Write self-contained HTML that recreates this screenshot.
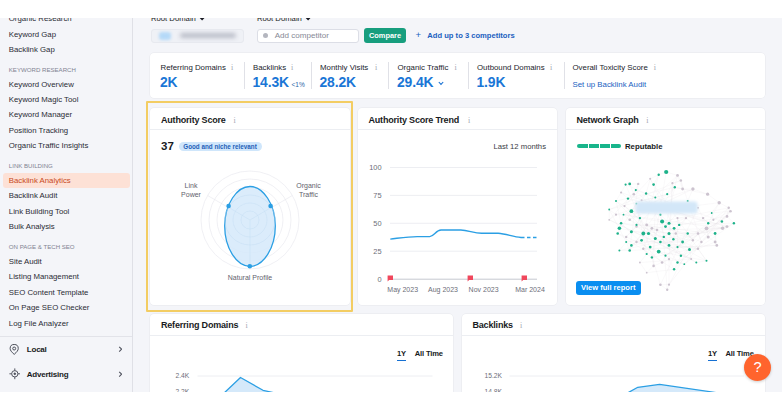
<!DOCTYPE html>
<html lang="en">
<head>
<meta charset="utf-8">
<title>Backlink Analytics</title>
<style>
*{box-sizing:border-box;margin:0;padding:0}
html,body{width:782px;height:410px;background:#fff;overflow:hidden}
body{font-family:"Liberation Sans",Arial,sans-serif;color:#191b23;position:relative}
#app{position:absolute;left:0;top:18px;width:782px;height:373.5px;background:#f4f5f9;overflow:hidden}
/* everything inside #app is positioned relative to page (top offset -18) */
#in{position:absolute;left:0;top:-18px;width:782px;height:410px}
.abs{position:absolute}
/* sidebar */
#side{position:absolute;left:0;top:0;width:132.5px;height:410px;background:#f4f5f9;border-right:1px solid #dfe0e6}
.si{position:absolute;left:8.8px;font-size:7.8px;line-height:12px;color:#2a2c35;white-space:nowrap;margin-top:.2px}
.sh{position:absolute;left:8.8px;font-size:6.1px;line-height:10px;color:#7f8391;white-space:nowrap;margin-top:.6px}
.sb{position:absolute;left:26.8px;font-size:8px;line-height:12px;font-weight:bold;color:#191b23;white-space:nowrap;letter-spacing:-.22px}
.card{position:absolute;background:#fff;border-radius:4px;box-shadow:0 0 0 .5px #e6e7ec}
.ct{position:absolute;font-weight:bold;font-size:9px;line-height:12px;color:#191b23;white-space:nowrap;letter-spacing:-.19px}
.hr{position:absolute;height:1px;background:#eceef2}
.ml{position:absolute;margin-top:.5px;font-size:7.85px;line-height:10px;color:#22242c;white-space:nowrap}
.mv{position:absolute;font-size:13.9px;line-height:16px;font-weight:bold;color:#1a76d6;white-space:nowrap;letter-spacing:-.12px;margin-top:-.6px}
.mi{position:absolute;font-size:8px;line-height:10px;color:#a3a6b1;font-family:"Liberation Serif",serif}
.vd{position:absolute;width:1px;background:#e0e1e7}
.ax{position:absolute;font-size:6.7px;line-height:10px;color:#6c6e79;white-space:nowrap}
.tab{position:absolute;font-size:7.6px;line-height:10px;color:#191b23;white-space:nowrap;font-weight:bold;letter-spacing:-.15px}
</style>
</head>
<body>
<div id="app"><div id="in">

<!-- ============ SIDEBAR ============ -->
<div id="side">
  <div class="si" style="top:12.5px">Organic Research</div>
  <div class="si" style="top:28.4px">Keyword Gap</div>
  <div class="si" style="top:43.5px">Backlink Gap</div>
  <div class="sh" style="top:64.5px">KEYWORD RESEARCH</div>
  <div class="si" style="top:78.5px">Keyword Overview</div>
  <div class="si" style="top:94px">Keyword Magic Tool</div>
  <div class="si" style="top:109.2px">Keyword Manager</div>
  <div class="si" style="top:124.5px">Position Tracking</div>
  <div class="si" style="top:140px">Organic Traffic Insights</div>
  <div class="sh" style="top:160.8px">LINK BUILDING</div>
  <div class="abs" style="left:3px;top:173px;width:127px;height:15px;background:#fde1d6;border-radius:3px"></div>
  <div class="si" style="top:174.5px;color:#c84a22">Backlink Analytics</div>
  <div class="si" style="top:190px">Backlink Audit</div>
  <div class="si" style="top:205.5px">Link Building Tool</div>
  <div class="si" style="top:220.8px">Bulk Analysis</div>
  <div class="sh" style="top:241.6px">ON PAGE &amp; TECH SEO</div>
  <div class="si" style="top:256px">Site Audit</div>
  <div class="si" style="top:271.3px">Listing Management</div>
  <div class="si" style="top:286.7px">SEO Content Template</div>
  <div class="si" style="top:302px">On Page SEO Checker</div>
  <div class="si" style="top:317.8px">Log File Analyzer</div>
  <div class="abs" style="left:0;top:336px;width:132px;height:1px;background:#e2e3e9"></div>
  <!-- Local -->
  <svg class="abs" style="left:9.2px;top:343.9px" width="10.4" height="11.3" viewBox="0 0 12 13" fill="none" stroke="#4a4d58" stroke-width="1.15"><path d="M6 12 C3 9.2 1.3 7.3 1.3 5.2 A4.7 4.7 0 0 1 10.7 5.2 C10.7 7.3 9 9.2 6 12Z"/><circle cx="6" cy="5.2" r="1.7"/></svg>
  <div class="sb" style="top:343.9px">Local</div>
  <svg class="abs" style="left:117.6px;top:346.3px" width="4.8" height="6.4" viewBox="0 0 6 8" fill="none" stroke="#4f525e" stroke-width="1.35"><path d="M1.5 1 L4.5 4 L1.5 7"/></svg>
  <!-- Advertising -->
  <svg class="abs" style="left:8.7px;top:368.1px" width="11.6" height="11.6" viewBox="0 0 14 14" fill="none" stroke="#4a4d58" stroke-width="1.15"><circle cx="7" cy="7" r="3.8"/><circle cx="7" cy="7" r="1" fill="#3c3e48"/><path d="M7 .5V3.2M7 10.8V13.5M.5 7H3.2M10.8 7H13.5"/></svg>
  <div class="sb" style="top:368.5px">Advertising</div>
  <svg class="abs" style="left:117.6px;top:371px" width="4.8" height="6.4" viewBox="0 0 6 8" fill="none" stroke="#4f525e" stroke-width="1.35"><path d="M1.5 1 L4.5 4 L1.5 7"/></svg>
</div>

<!-- ============ TOP FILTER ROW ============ -->
<div class="abs" style="left:151px;top:13.1px;font-size:7.7px;line-height:12px;color:#191b23;white-space:nowrap">Root Domain<svg style="display:inline-block;vertical-align:middle;margin-left:3.4px;margin-top:-.6px" width="6.2" height="4.6" viewBox="0 0 5.4 4" fill="none" stroke="#191b23" stroke-width="1.4"><path d="M.7 .8 L2.7 2.9 L4.7 .8"/></svg></div>
<div class="abs" style="left:257px;top:13.1px;font-size:7.7px;line-height:12px;color:#191b23;white-space:nowrap">Root Domain<svg style="display:inline-block;vertical-align:middle;margin-left:3.4px;margin-top:-.6px" width="6.2" height="4.6" viewBox="0 0 5.4 4" fill="none" stroke="#191b23" stroke-width="1.4"><path d="M.7 .8 L2.7 2.9 L4.7 .8"/></svg></div>
<!-- blurred domain field -->
<div class="abs" style="left:151px;top:28.5px;width:93px;height:14px;border-radius:3px;background:#eff1f6;border:1px solid #e7e9ef;overflow:hidden">
  <div class="abs" style="left:7px;top:2px;width:12px;height:8px;border-radius:3px;background:#b5d9f8;filter:blur(1.8px)"></div>
  <div class="abs" style="left:28px;top:3.5px;width:56px;height:5px;border-radius:3px;background:#babdc8;filter:blur(2.1px)"></div>
</div>
<!-- add competitor -->
<div class="abs" style="left:257px;top:28.5px;width:102px;height:14px;border-radius:3px;background:#fff;border:1px solid #dcdee6"></div>
<div class="abs" style="left:262.8px;top:32.7px;width:5.6px;height:5.6px;border-radius:50%;background:#b4b6bf"></div>
<div class="abs" style="left:274.7px;top:30px;font-size:8.05px;line-height:11px;color:#868995;white-space:nowrap">Add competitor</div>
<!-- compare -->
<div class="abs" style="left:364px;top:28px;width:42px;height:15px;border-radius:3px;background:#179e7e;color:#fff;font-weight:bold;font-size:7.4px;line-height:15px;text-align:center">Compare</div>
<div class="abs" style="left:415.5px;top:29.3px;font-size:7.6px;line-height:11px;color:#1b5fbf;font-weight:bold;white-space:nowrap"><span style="font-weight:normal;font-size:9.5px;margin-right:6.3px">+</span>Add up to 3 competitors</div>

<!-- ============ METRICS CARD ============ -->
<div class="card" style="left:150px;top:52.6px;width:615px;height:45.7px"></div>
<div class="ml" style="left:160.5px;top:62px">Referring Domains</div><div class="mi" style="left:230.9px;top:62.5px">i</div>
<div class="mv" style="left:160px;top:74.5px">2K</div>
<div class="vd" style="left:244px;top:62px;height:27px"></div>
<div class="ml" style="left:253px;top:62px">Backlinks</div><div class="mi" style="left:290.9px;top:62.5px">i</div>
<div class="mv" style="left:252.5px;top:74.5px">14.3K<span style="font-size:6.5px;font-weight:normal;color:#2a63a8;letter-spacing:0;margin-left:2.5px">&lt;1%</span></div>
<div class="vd" style="left:311px;top:62px;height:27px"></div>
<div class="ml" style="left:320px;top:62px">Monthly Visits</div><div class="mi" style="left:375.1px;top:62.5px">i</div>
<div class="mv" style="left:319.5px;top:74.5px">28.2K</div>
<div class="vd" style="left:388px;top:62px;height:27px"></div>
<div class="ml" style="left:397.5px;top:62px">Organic Traffic</div><div class="mi" style="left:454.5px;top:62.5px">i</div>
<div class="mv" style="left:397px;top:74.5px">29.4K</div>
<svg class="abs" style="left:438px;top:81px" width="6" height="5" viewBox="0 0 6 5" fill="none" stroke="#1670d2" stroke-width="1.1"><path d="M.8 1 L3 3.4 L5.2 1"/></svg>
<div class="vd" style="left:468px;top:62px;height:27px"></div>
<div class="ml" style="left:477px;top:62px">Outbound Domains</div><div class="mi" style="left:549.9px;top:62.5px">i</div>
<div class="mv" style="left:476.5px;top:74.5px">1.9K</div>
<div class="vd" style="left:563.5px;top:62px;height:27px"></div>
<div class="ml" style="left:572.5px;top:62px">Overall Toxicity Score</div><div class="mi" style="left:653.7px;top:62.5px">i</div>
<div class="ml" style="left:572.5px;top:79px;color:#1b5fbf">Set up Backlink Audit</div>

<!-- ============ AUTHORITY SCORE ============ -->
<div class="abs" style="left:146px;top:100.7px;width:206.6px;height:211.2px;border:2.8px solid #f3cd63;border-radius:1px"></div>
<div class="card" style="left:150px;top:108.4px;width:200px;height:197px"></div>
<div class="ct" style="left:161px;top:113.7px">Authority Score</div><div class="mi" style="left:233.5px;top:115.5px">i</div>
<div class="hr" style="left:150px;top:128.8px;width:200px"></div>
<div class="abs" style="left:161px;top:139px;font-size:11.5px;line-height:14px;font-weight:bold;color:#191b23">37</div>
<div class="abs" style="left:178.5px;top:141.5px;width:83px;height:9.5px;border-radius:5px;background:#cfe6fb;color:#1d5eb8;font-size:6.3px;line-height:9.5px;text-align:center;white-space:nowrap;font-weight:bold">Good and niche relevant</div>
<svg class="abs" style="left:150px;top:160px" width="200" height="130" viewBox="150 160 200 130">
  <g fill="none" stroke="#e9eaef" stroke-width=".7">
    <circle cx="250" cy="220" r="49"/><circle cx="250" cy="220" r="41"/><circle cx="250" cy="220" r="33"/><circle cx="250" cy="220" r="25"/><circle cx="250" cy="220" r="17"/><circle cx="250" cy="220" r="9"/>
    <path d="M250 220 L250 269 M250 220 L207.6 195.5 M250 220 L292.4 195.5"/>
  </g>
  <path d="M250 186.5 C263 186.5 275.3 204 275.3 226 C275.3 248 263.5 266.3 250 266.3 C236.5 266.3 224.7 248 224.7 226 C224.7 204 237 186.5 250 186.5Z" fill="#d5e9fa" fill-opacity=".85" stroke="#2b9fe4" stroke-width="1.3"/>
  <g fill="none" stroke="#c3dcf2" stroke-width=".5" opacity=".8">
    <circle cx="250" cy="220" r="17"/><circle cx="250" cy="220" r="9"/><circle cx="250" cy="220" r="25"/>
    <path d="M250 220 L250 266 M250 220 L229 207.5 M250 220 L271 207.5"/>
  </g>
  <circle cx="228.6" cy="206" r="2.3" fill="#2b9fe4"/><circle cx="270.6" cy="206" r="2.3" fill="#2b9fe4"/><circle cx="249.8" cy="266.3" r="2.3" fill="#2b9fe4"/>
  <g font-family="Liberation Sans, Arial, sans-serif" font-size="7" fill="#5f626d" text-anchor="middle">
    <text x="191" y="188">Link</text><text x="191" y="196.8">Power</text>
    <text x="308.5" y="188">Organic</text><text x="308.5" y="196.8">Traffic</text>
    <text x="250" y="279.5">Natural Profile</text>
  </g>
</svg>

<!-- ============ AUTHORITY SCORE TREND ============ -->
<div class="card" style="left:358px;top:108.4px;width:199px;height:197px"></div>
<div class="ct" style="left:368.5px;top:114px">Authority Score Trend</div><div class="mi" style="left:467.9px;top:115.5px">i</div>
<div class="hr" style="left:358px;top:128.8px;width:199px"></div>
<div class="abs" style="left:446px;top:140.5px;width:100px;text-align:right;font-size:7.7px;line-height:11px;color:#3a3c46;white-space:nowrap">Last 12 months</div>
<svg class="abs" style="left:358px;top:155px" width="199" height="145" viewBox="358 155 199 145">
  <g stroke="#e9eaef" stroke-width=".8"><path d="M390 167.5H537M390 195.4H537M390 223.3H537M390 251.2H537"/></g>
  <path d="M390 279.2H537" stroke="#c6c8d0" stroke-width="1"/>
  <g font-family="Liberation Sans, Arial, sans-serif" font-size="7.4" fill="#6c6e79" text-anchor="end">
    <text x="381.5" y="170">100</text><text x="381.5" y="198">75</text><text x="381.5" y="226">50</text><text x="381.5" y="254">25</text><text x="381.5" y="282">0</text>
  </g>
  <g font-family="Liberation Sans, Arial, sans-serif" font-size="7" fill="#6c6e79" text-anchor="middle">
    <text x="402.7" y="291.6">May 2023</text><text x="443" y="291.6">Aug 2023</text><text x="483.6" y="291.6">Nov 2023</text><text x="530" y="291.6">Mar 2024</text>
  </g>
  <path d="M390.3 239.1 C400 238 408 236.7 417.2 236.6 L429.7 236.6 C434 236.4 436 230.2 441 230 L460.8 230 C468 230.4 474 233 481.6 233.3 L498.2 233.3 C506 233.8 513 236.8 521 237.5" fill="none" stroke="#2b9fe4" stroke-width="1.4" stroke-linejoin="round"/>
  <path d="M521 237.5H537" stroke="#2b9fe4" stroke-width="1.4" stroke-dasharray="3.5 2.5"/>
  <g fill="#f0475c"><path d="M387.6 275.6h5.4v4.4h-3.9l-1.5 1.5z"/><path d="M467.6 275.6h5.4v4.4h-3.9l-1.5 1.5z"/><path d="M521.6 275.6h5.4v4.4h-3.9l-1.5 1.5z"/></g>
</svg>

<!-- ============ NETWORK GRAPH ============ -->
<div class="card" style="left:566px;top:108.4px;width:199px;height:197px"></div>
<div class="ct" style="left:576.5px;top:114px">Network Graph</div><div class="mi" style="left:646.3px;top:115.5px">i</div>
<div class="hr" style="left:565.5px;top:128.8px;width:199.5px"></div>
<div class="abs" style="left:577px;top:143.6px;width:44px;height:4.4px;border-radius:2.2px;background:#18b58b"></div>
<div class="abs" style="left:587.5px;top:143.6px;width:.8px;height:4.4px;background:#fff"></div>
<div class="abs" style="left:598.5px;top:143.6px;width:.8px;height:4.4px;background:#fff"></div>
<div class="abs" style="left:609.5px;top:143.6px;width:.8px;height:4.4px;background:#fff"></div>
<div class="abs" style="left:625px;top:140.5px;font-size:7.75px;line-height:11px;font-weight:bold;color:#191b23">Reputable</div>
<svg id="net" class="abs" style="left:565.5px;top:160px" width="199.5" height="140" viewBox="565.5 160 199.5 140"><defs><filter id="bl" x="-10%" y="-30%" width="120%" height="160%"><feGaussianBlur stdDeviation="1.5"/></filter></defs><g stroke="#e3dadf" stroke-width=".3" opacity=".55"><path d="M665.7 172.0L658.2 174.7M665.7 172.0L651.4 257.4M665.7 172.0L677.0 175.4M658.2 174.7L653.1 184.6M658.2 174.7L642.8 233.5M658.2 174.7L649.7 178.8M653.1 184.6L706.0 260.8M653.1 184.6L649.7 178.8M629.2 183.9L625.1 184.6M629.2 183.9L637.7 183.9M629.2 183.9L633.3 194.2M625.1 184.6L645.6 193.5M625.1 184.6L639.4 218.1M625.1 184.6L620.6 192.5M635.3 190.1L654.8 197.6M635.3 190.1L689.0 249.5M635.3 190.1L637.7 183.9M635.3 190.1L633.3 194.2M635.3 190.1L608.7 219.8M645.6 193.5L654.8 197.6M645.6 193.5L668.5 245.4M645.6 193.5L649.7 178.8M645.6 193.5L641.1 200.3M674.3 187.3L666.7 194.2M674.3 187.3L615.5 201.0M674.3 187.3L665.0 226.6M674.3 187.3L629.2 250.5M674.3 187.3L677.0 175.4M674.3 187.3L671.9 183.2M674.3 187.3L682.1 189.0M674.3 187.3L707.1 194.2M666.7 194.2L654.8 197.6M666.7 194.2L608.7 209.5M666.7 194.2L630.9 231.7M666.7 194.2L644.5 207.8M666.7 194.2L671.9 183.2M654.8 197.6L721.4 221.5M654.8 197.6L653.1 265.9M654.8 197.6L641.1 200.3M627.5 198.6L726.5 226.6M627.5 198.6L633.3 194.2M627.5 198.6L620.6 192.5M627.5 198.6L624.0 206.1M615.5 201.0L620.6 223.2M615.5 201.0L648.0 233.5M615.5 201.0L620.6 192.5M615.5 201.0L624.0 206.1M608.7 209.5L625.7 242.0M608.7 209.5L680.4 180.5M608.7 209.5L615.5 214.7M608.7 209.5L608.7 219.8M630.9 211.2L654.8 238.6M630.9 211.2L659.9 214.7M630.9 211.2L636.0 203.7M630.9 211.2L623.0 214.7M630.9 211.2L624.0 206.1M639.4 218.1L636.0 224.9M639.4 218.1L636.0 226.6M620.6 223.2L618.9 228.3M620.6 223.2L668.5 233.5M620.6 223.2L714.6 233.5M620.6 223.2L623.0 214.7M620.6 223.2L661.6 262.5M618.9 228.3L617.2 233.5M618.9 228.3L663.3 236.9M617.2 233.5L673.6 269.3M617.2 233.5L636.0 203.7M617.2 233.5L625.7 236.9M630.9 231.7L687.2 233.5M630.9 231.7L636.0 226.6M630.9 231.7L625.7 236.9M642.8 233.5L648.0 233.5M642.8 233.5L641.1 240.3M642.8 233.5L630.9 245.4M642.8 233.5L685.5 218.1M648.0 233.5L654.8 238.6M648.0 233.5L646.2 224.9M648.0 233.5L651.4 228.3M661.6 221.5L668.5 223.2M661.6 221.5L665.0 226.6M661.6 221.5L659.9 214.7M661.6 221.5L728.2 207.8M661.6 221.5L666.7 289.8M668.5 223.2L665.0 226.6M668.5 223.2L659.9 214.7M668.5 223.2L623.0 214.7M665.0 226.6L687.2 201.0M665.0 226.6L700.9 242.0M673.6 228.3L678.7 224.9M673.6 228.3L672.9 239.3M673.6 228.3L649.7 178.8M673.6 228.3L675.3 233.5M678.7 224.9L726.5 216.4M678.7 224.9L685.5 218.1M678.7 224.9L677.0 218.1M668.5 233.5L663.3 236.9M668.5 233.5L672.9 239.3M668.5 233.5L671.9 183.2M668.5 233.5L675.3 233.5M654.8 238.6L659.9 242.0M654.8 238.6L656.5 230.0M659.9 242.0L682.1 242.0M659.9 242.0L663.3 236.9M659.9 242.0L697.5 248.8M641.1 240.3L697.5 248.8M641.1 240.3L636.0 242.0M630.9 245.4L629.2 250.5M630.9 245.4L625.7 242.0M630.9 245.4L726.5 226.6M630.9 245.4L636.0 242.0M629.2 250.5L618.9 250.5M629.2 250.5L625.7 242.0M629.2 250.5L716.3 245.4M629.2 250.5L637.7 183.9M618.9 250.5L625.7 242.0M618.9 250.5L722.1 228.3M649.7 247.1L646.2 254.0M649.7 247.1L726.5 226.6M649.7 247.1L642.8 248.8M658.2 251.6L651.4 257.4M658.2 251.6L706.0 260.8M658.2 251.6L665.0 255.7M668.5 245.4L672.9 239.3M668.5 245.4L677.0 247.1M682.1 242.0L687.2 233.5M682.1 242.0L672.9 239.3M682.1 242.0L677.0 247.1M682.1 242.0L636.0 242.0M689.0 249.5L651.4 257.4M689.0 249.5L697.5 248.8M689.0 249.5L690.7 259.1M680.4 255.7L677.0 262.5M680.4 255.7L677.0 247.1M680.4 255.7L730.0 211.2M680.4 255.7L714.6 242.0M680.4 255.7L624.0 206.1M677.0 262.5L673.6 269.3M677.0 262.5L733.4 223.2M677.0 262.5L683.8 264.2M677.0 262.5L656.5 230.0M673.6 269.3L730.0 211.2M673.6 269.3L668.5 259.1M673.6 269.3L646.2 272.7M651.4 257.4L646.2 254.0M651.4 257.4L653.1 265.9M646.2 254.0L636.0 203.7M646.2 254.0L642.8 248.8M646.2 254.0L639.4 262.5M687.2 233.5L692.4 240.3M687.2 233.5L646.2 224.9M687.2 233.5L697.5 233.5M707.7 223.2L718.7 202.7M707.7 223.2L706.0 228.3M707.7 223.2L702.6 218.1M707.7 223.2L712.9 219.8M714.6 233.5L714.6 242.0M714.6 233.5L716.3 245.4M714.6 233.5L707.7 236.9M721.4 221.5L726.5 216.4M721.4 221.5L722.1 228.3M721.4 221.5L726.5 226.6M721.4 221.5L706.0 228.3M733.4 223.2L636.0 224.9M733.4 223.2L726.5 216.4M733.4 223.2L726.5 226.6M711.2 213.0L718.7 202.7M711.2 213.0L730.0 211.2M711.2 213.0L702.6 218.1M711.2 213.0L712.9 219.8M695.8 262.5L706.0 260.8M695.8 262.5L608.7 219.8M695.8 262.5L690.7 259.1M706.0 260.8L697.5 248.8M706.0 260.8L629.2 219.8M687.2 201.0L692.4 189.0M687.2 201.0L697.5 207.8M636.0 203.7L644.5 207.8M636.0 203.7L726.5 226.6M636.0 203.7L659.9 284.7M636.0 203.7L702.6 218.1M636.0 203.7L641.1 200.3M623.0 214.7L718.7 202.7M623.0 214.7L722.1 228.3M623.0 214.7L615.5 214.7M623.0 214.7L629.2 219.8M663.3 236.9L692.4 240.3M672.9 239.3L675.3 233.5M636.0 224.9L629.2 219.8M636.0 224.9L636.0 226.6M636.0 224.9L625.7 236.9M625.7 242.0L726.5 226.6M625.7 242.0L625.7 236.9M665.0 255.7L728.2 207.8M665.0 255.7L726.5 216.4M665.0 255.7L661.6 262.5M665.0 255.7L668.5 259.1M683.8 264.2L625.7 236.9M683.8 264.2L690.7 259.1M644.5 207.8L641.1 200.3M677.0 247.1L726.5 216.4M677.0 247.1L677.0 218.1M677.0 175.4L680.4 180.5M677.0 175.4L671.9 183.2M677.0 175.4L682.1 189.0M677.0 175.4L629.2 219.8M680.4 180.5L671.9 183.2M680.4 180.5L682.1 189.0M680.4 180.5L700.9 242.0M671.9 183.2L668.5 259.1M682.1 189.0L692.4 189.0M692.4 189.0L707.1 194.2M692.4 189.0L615.5 214.7M692.4 189.0L629.2 219.8M707.1 194.2L718.7 202.7M718.7 202.7L728.2 207.8M728.2 207.8L730.0 211.2M728.2 207.8L726.5 216.4M728.2 207.8L668.5 284.7M730.0 211.2L726.5 216.4M730.0 211.2L712.9 219.8M722.1 228.3L726.5 226.6M722.1 228.3L620.6 192.5M722.1 228.3L656.5 230.0M706.0 228.3L707.7 236.9M714.6 242.0L716.3 245.4M714.6 242.0L707.7 236.9M716.3 245.4L642.8 248.8M707.7 236.9L700.9 242.0M707.7 236.9L685.5 218.1M700.9 242.0L697.5 248.8M700.9 242.0L697.5 233.5M697.5 248.8L646.2 224.9M692.4 240.3L668.5 284.7M692.4 240.3L697.5 233.5M624.0 206.1L649.7 178.8M615.5 214.7L608.7 219.8M636.0 226.6L690.7 259.1M646.2 224.9L651.4 228.3M651.4 228.3L642.8 248.8M651.4 228.3L656.5 230.0M653.1 265.9L661.6 262.5M653.1 265.9L646.2 272.7M661.6 262.5L668.5 259.1M668.5 259.1L668.5 284.7M659.9 284.7L666.7 289.8M659.9 284.7L668.5 284.7M659.9 284.7L697.5 207.8M666.7 289.8L668.5 284.7M685.5 218.1L677.0 218.1M685.5 218.1L675.3 233.5M702.6 218.1L697.5 207.8M608.7 219.8L690.7 259.1M639.4 262.5L690.7 259.1M639.4 262.5L646.2 272.7" fill="none"/></g><g fill="#ccc3cf"><circle cx="677.0" cy="175.4" r="1.4"/><circle cx="680.4" cy="180.5" r="1.2"/><circle cx="671.9" cy="183.2" r="1.1"/><circle cx="682.1" cy="189.0" r="1.4"/><circle cx="692.4" cy="189.0" r="1.7"/><circle cx="707.1" cy="194.2" r="1.6"/><circle cx="718.7" cy="202.7" r="1.7"/><circle cx="728.2" cy="207.8" r="1.2"/><circle cx="730.0" cy="211.2" r="1.3"/><circle cx="726.5" cy="216.4" r="1.3"/><circle cx="722.1" cy="228.3" r="1.7"/><circle cx="726.5" cy="226.6" r="1.4"/><circle cx="706.0" cy="228.3" r="1.9"/><circle cx="714.6" cy="242.0" r="1.4"/><circle cx="716.3" cy="245.4" r="1.4"/><circle cx="707.7" cy="236.9" r="1.5"/><circle cx="700.9" cy="242.0" r="1.2"/><circle cx="697.5" cy="248.8" r="1.2"/><circle cx="692.4" cy="240.3" r="1.2"/><circle cx="637.7" cy="183.9" r="1.2"/><circle cx="633.3" cy="194.2" r="1.3"/><circle cx="620.6" cy="192.5" r="1.1"/><circle cx="624.0" cy="206.1" r="1.1"/><circle cx="615.5" cy="214.7" r="1.1"/><circle cx="629.2" cy="219.8" r="1.3"/><circle cx="636.0" cy="226.6" r="1.2"/><circle cx="646.2" cy="224.9" r="1.4"/><circle cx="651.4" cy="228.3" r="1.4"/><circle cx="625.7" cy="236.9" r="1.2"/><circle cx="636.0" cy="242.0" r="1.2"/><circle cx="642.8" cy="248.8" r="1.2"/><circle cx="653.1" cy="265.9" r="1.3"/><circle cx="661.6" cy="262.5" r="1.3"/><circle cx="668.5" cy="259.1" r="1.2"/><circle cx="659.9" cy="284.7" r="1.3"/><circle cx="666.7" cy="289.8" r="1.2"/><circle cx="668.5" cy="284.7" r="1.1"/><circle cx="697.5" cy="233.5" r="1.3"/><circle cx="685.5" cy="218.1" r="1.2"/><circle cx="677.0" cy="218.1" r="1.1"/><circle cx="702.6" cy="218.1" r="1.2"/><circle cx="608.7" cy="219.8" r="0.9"/><circle cx="649.7" cy="178.8" r="1.0"/><circle cx="641.1" cy="200.3" r="1.0"/><circle cx="697.5" cy="207.8" r="1.0"/><circle cx="712.9" cy="219.8" r="1.1"/><circle cx="656.5" cy="230.0" r="1.3"/><circle cx="675.3" cy="233.5" r="1.2"/><circle cx="639.4" cy="262.5" r="0.9"/><circle cx="690.7" cy="259.1" r="1.0"/><circle cx="646.2" cy="272.7" r="0.9"/></g><g fill="#1db28a"><circle cx="665.7" cy="172.0" r="2.1"/><circle cx="658.2" cy="174.7" r="1.2"/><circle cx="653.1" cy="184.6" r="1.3"/><circle cx="629.2" cy="183.9" r="1.4"/><circle cx="625.1" cy="184.6" r="1.1"/><circle cx="635.3" cy="190.1" r="1.1"/><circle cx="645.6" cy="193.5" r="1.2"/><circle cx="674.3" cy="187.3" r="1.2"/><circle cx="666.7" cy="194.2" r="1.1"/><circle cx="654.8" cy="197.6" r="1.0"/><circle cx="627.5" cy="198.6" r="1.2"/><circle cx="615.5" cy="201.0" r="1.0"/><circle cx="608.7" cy="209.5" r="0.9"/><circle cx="630.9" cy="211.2" r="1.9"/><circle cx="639.4" cy="218.1" r="1.2"/><circle cx="620.6" cy="223.2" r="1.3"/><circle cx="618.9" cy="228.3" r="1.8"/><circle cx="617.2" cy="233.5" r="1.3"/><circle cx="630.9" cy="231.7" r="1.5"/><circle cx="642.8" cy="233.5" r="1.9"/><circle cx="648.0" cy="233.5" r="1.6"/><circle cx="661.6" cy="221.5" r="2.0"/><circle cx="668.5" cy="223.2" r="1.5"/><circle cx="665.0" cy="226.6" r="1.4"/><circle cx="673.6" cy="228.3" r="1.4"/><circle cx="678.7" cy="224.9" r="1.2"/><circle cx="668.5" cy="233.5" r="1.5"/><circle cx="654.8" cy="238.6" r="1.5"/><circle cx="659.9" cy="242.0" r="1.3"/><circle cx="641.1" cy="240.3" r="1.4"/><circle cx="630.9" cy="245.4" r="1.3"/><circle cx="629.2" cy="250.5" r="1.3"/><circle cx="618.9" cy="250.5" r="1.0"/><circle cx="649.7" cy="247.1" r="1.4"/><circle cx="658.2" cy="251.6" r="1.9"/><circle cx="668.5" cy="245.4" r="1.4"/><circle cx="682.1" cy="242.0" r="1.4"/><circle cx="689.0" cy="249.5" r="1.5"/><circle cx="680.4" cy="255.7" r="1.2"/><circle cx="677.0" cy="262.5" r="1.2"/><circle cx="673.6" cy="269.3" r="1.2"/><circle cx="651.4" cy="257.4" r="1.2"/><circle cx="646.2" cy="254.0" r="1.1"/><circle cx="687.2" cy="233.5" r="1.2"/><circle cx="707.7" cy="223.2" r="1.2"/><circle cx="714.6" cy="233.5" r="1.4"/><circle cx="721.4" cy="221.5" r="1.3"/><circle cx="733.4" cy="223.2" r="1.2"/><circle cx="711.2" cy="213.0" r="0.9"/><circle cx="695.8" cy="262.5" r="1.0"/><circle cx="706.0" cy="260.8" r="1.0"/><circle cx="687.2" cy="201.0" r="1.0"/><circle cx="659.9" cy="214.7" r="1.1"/><circle cx="636.0" cy="203.7" r="0.9"/><circle cx="623.0" cy="214.7" r="0.9"/><circle cx="663.3" cy="236.9" r="1.2"/><circle cx="672.9" cy="239.3" r="1.2"/><circle cx="636.0" cy="224.9" r="1.1"/><circle cx="625.7" cy="242.0" r="1.0"/><circle cx="665.0" cy="255.7" r="1.1"/><circle cx="683.8" cy="264.2" r="0.9"/><circle cx="644.5" cy="207.8" r="0.9"/><circle cx="677.0" cy="247.1" r="1.1"/></g><rect x="635" y="201.5" width="62" height="12" rx="3" fill="#d3e7f8" filter="url(#bl)"/></svg>
<div class="abs" style="left:576px;top:280.7px;width:64.5px;height:14.6px;border-radius:3px;background:#0a8ef0;color:#fff;font-weight:bold;font-size:7.55px;line-height:14.6px;text-align:center;white-space:nowrap">View full report</div>

<!-- ============ REFERRING DOMAINS ============ -->
<div class="card" style="left:150px;top:314.4px;width:303px;height:120px"></div>
<div class="ct" style="left:161px;top:319px">Referring Domains</div><div class="mi" style="left:245.6px;top:320.5px">i</div>
<div class="hr" style="left:150px;top:335px;width:303px"></div>
<div class="tab" style="left:397px;top:348.7px">1Y</div>
<div class="abs" style="left:397px;top:360px;width:9px;height:1.4px;background:#1670d2"></div>
<div class="tab" style="left:414.7px;top:348.7px">All Time</div>
<div class="ax" style="left:175.5px;top:371px">2.4K</div>
<div class="ax" style="left:175.5px;top:386.5px">2.2K</div>
<svg class="abs" style="left:150px;top:365px" width="303" height="45" viewBox="150 365 303 45">
  <path d="M197.5 376H432.5" stroke="#e9eaef" stroke-width=".8"/>
  <path d="M222 395 L240.5 377.5 L263 390.3 L275 393 L275 400 L222 400Z" fill="#d5e9fa"/>
  <path d="M222 395 L240.5 377.5 L263 390.3 L275 393" fill="none" stroke="#2b9fe4" stroke-width="1.3" stroke-linejoin="round"/>
</svg>

<!-- ============ BACKLINKS ============ -->
<div class="card" style="left:462px;top:314.4px;width:303px;height:120px"></div>
<div class="ct" style="left:472.5px;top:319px">Backlinks</div><div class="mi" style="left:519.9px;top:320.5px">i</div>
<div class="hr" style="left:462px;top:335px;width:303px"></div>
<div class="tab" style="left:708px;top:348.7px">1Y</div>
<div class="abs" style="left:708px;top:360px;width:9px;height:1.4px;background:#1670d2"></div>
<div class="tab" style="left:725.5px;top:348.7px">All Time</div>
<div class="ax" style="left:484.5px;top:371px">15.2K</div>
<div class="ax" style="left:484.5px;top:386.5px">14.8K</div>
<svg class="abs" style="left:462px;top:365px" width="303" height="45" viewBox="462 365 303 45">
  <path d="M509.5 376H744" stroke="#e9eaef" stroke-width=".8"/>
  <path d="M622 396 L637.8 387.3 L659.6 384.4 L711 391.8 L730 395 L730 400 L622 400Z" fill="#d5e9fa"/>
  <path d="M622 396 L637.8 387.3 L659.6 384.4 L711 391.8 L730 395" fill="none" stroke="#2b9fe4" stroke-width="1.3" stroke-linejoin="round"/>
</svg>

<!-- help button -->
<div class="abs" style="left:744px;top:354px;width:27px;height:27px;border-radius:50%;background:#ff642d;color:#fff;font-size:14.5px;line-height:27px;text-align:center;box-shadow:0 1px 3px rgba(0,0,0,.2)">?</div>

</div></div>
</body>
</html>
